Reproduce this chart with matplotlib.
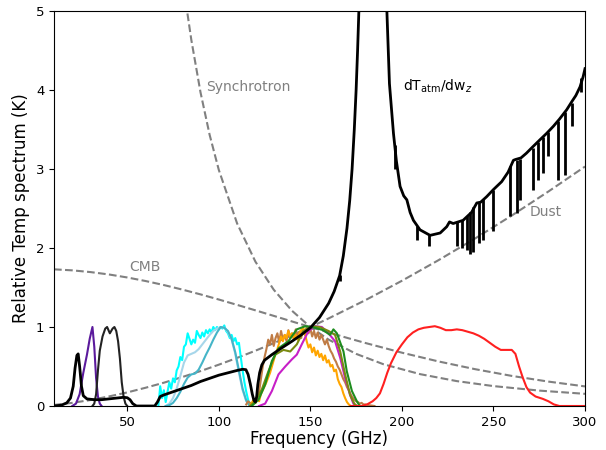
import matplotlib
matplotlib.use("Agg")
import matplotlib.pyplot as plt

# ---- foreground spectra (relative brightness temperature, normalised near 150 GHz) ----
cmb_f = [10, 20, 30, 40, 50, 60, 70, 80, 90, 100, 110, 120, 130, 140, 150, 160, 170,
         180, 200, 220, 240, 260, 280, 300]
cmb_v = [1.730, 1.717, 1.695, 1.665, 1.627, 1.582, 1.531, 1.474, 1.413, 1.348, 1.280,
         1.211, 1.141, 1.070, 1.000, 0.931, 0.863, 0.798, 0.675, 0.564, 0.466, 0.381,
         0.309, 0.248]

sync_f = [82, 85, 90, 95, 100, 110, 120, 130, 140, 150, 160, 175, 190, 210, 230, 250,
          275, 300]
sync_v = [5.107, 4.634, 3.972, 3.432, 2.989, 2.311, 1.827, 1.472, 1.205, 1.000, 0.840,
          0.660, 0.528, 0.403, 0.315, 0.252, 0.195, 0.154]

dust_f = [10, 20, 30, 40, 50, 60, 70, 80, 90, 100, 110, 120, 130, 140, 150, 160, 180,
          200, 220, 240, 260, 280, 300]
dust_v = [0.013, 0.040, 0.076, 0.121, 0.172, 0.231, 0.295, 0.366, 0.442, 0.523, 0.609,
          0.700, 0.795, 0.896, 1.000, 1.109, 1.339, 1.585, 1.846, 2.121, 2.411, 2.715,
          3.031]

# ---- atmospheric response to precipitable water vapour ----
atm_f = [10, 14, 17, 19, 20.5, 21.5, 22.5, 23.2, 24, 25, 26, 28, 32, 36, 40, 44, 48, 50,
         51.5, 53, 55, 65, 66.5, 68, 70, 75, 80, 85, 90, 95, 100, 105, 110, 113, 114.8,
         116, 117.2, 118.3, 119.2, 120, 120.7, 121.3, 122.3, 123.5, 125, 129, 134, 140,
         145, 150, 155, 160, 163, 166, 168, 170, 171.5, 172.8, 174, 175, 175.8, 176.5,
         178, 180, 183, 186, 189, 191.8, 193.2, 195.4, 197, 199, 201, 202.7, 204.5,
         206.3, 209.9, 215.4, 220.9, 224.5, 226, 228, 233.4, 238, 240.9, 243, 246.3, 250,
         254.5, 258, 260.9, 262, 265, 268, 271, 275.4, 279, 282.7, 286, 290, 293, 295,
         297.3, 299, 300]
atm_v = [0.0, 0.01, 0.04, 0.10, 0.25, 0.48, 0.64, 0.66, 0.50, 0.25, 0.13, 0.09, 0.08,
         0.08, 0.09, 0.10, 0.11, 0.105, 0.08, 0.03, 0.0, 0.0, 0.05, 0.12, 0.14, 0.18, 0.22,
         0.26, 0.31, 0.35, 0.39, 0.42, 0.45, 0.465, 0.46, 0.40, 0.28, 0.15, 0.07, 0.05,
         0.12, 0.27, 0.42, 0.52, 0.58, 0.65, 0.73, 0.82, 0.90, 0.99, 1.12, 1.30, 1.45,
         1.65, 1.90, 2.25, 2.60, 3.00, 3.50, 4.00, 4.50, 5.00, 6.50, 9.0, 12.0, 9.0, 6.5,
         5.00, 4.08, 3.45, 3.10, 2.78, 2.66, 2.61, 2.45, 2.35, 2.23, 2.16, 2.19, 2.27,
         2.33, 2.31, 2.35, 2.45, 2.57, 2.58, 2.65, 2.74, 2.84, 2.96, 3.11, 3.12, 3.14,
         3.20, 3.27, 3.37, 3.45, 3.54, 3.63, 3.75, 3.86, 3.93, 4.04, 4.17, 4.27]

# narrow absorption features cutting down from the curve
line_f = [166.3, 196.3, 208.1, 215.0, 230.0, 232.7, 235.4, 237.2, 239.0, 242.3, 244.5,
          250.0, 259.1, 262.7, 264.5, 271.8, 274.5, 277.2, 280.0, 285.4, 289.1, 292.7,
          298.0]
line_top = [1.66, 3.30, 2.28, 2.16, 2.33, 2.35, 2.40, 2.45, 2.52, 2.58, 2.62, 2.74,
            3.04, 3.12, 3.13, 3.27, 3.34, 3.41, 3.47, 3.61, 3.72, 3.84, 4.15]
line_bot = [1.58, 3.00, 2.10, 2.02, 2.02, 2.00, 1.97, 1.93, 1.95, 2.06, 2.10, 2.21,
            2.40, 2.44, 2.61, 2.73, 2.86, 2.95, 3.16, 2.86, 2.92, 3.54, 3.98]

# ---- instrument passbands (peak-normalised) ----
b30_f = [20, 22, 24, 26, 28, 29.5, 31, 32, 33, 34, 35, 36]
b30_v = [0.0, 0.03, 0.15, 0.42, 0.65, 0.85, 1.0, 0.75, 0.35, 0.12, 0.03, 0.0]

b40_f = [31, 32, 33, 34, 35, 36.5, 38, 39, 40.5, 42, 43, 44, 45, 46, 47, 48, 49, 50]
b40_v = [0.0, 0.03, 0.15, 0.45, 0.70, 0.88, 0.98, 1.0, 0.92, 0.98, 1.0, 0.95, 0.82,
         0.60, 0.30, 0.12, 0.03, 0.0]

b90a_f = list(range(67, 119))
b90a_v = [0.0, 0.25, 0.10, 0.20, 0.05, 0.18, 0.30, 0.22, 0.35, 0.30, 0.45, 0.50, 0.62,
          0.58, 0.75, 0.78, 0.92, 0.85, 0.78, 0.84, 0.80, 0.95, 0.90, 0.86, 0.93, 0.88,
          0.96, 0.92, 0.97, 0.93, 1.00, 0.96, 1.00, 0.97, 1.00, 0.98, 1.02, 0.95, 0.92,
          0.86, 0.90, 0.82, 0.86, 0.78, 0.80, 0.62, 0.45, 0.30, 0.18, 0.08, 0.02, 0.0]

b90b_f = [71, 73, 75, 77, 79, 81, 83, 85, 87, 89, 91, 93, 95, 97, 99, 101, 103, 105,
          107, 109, 111, 113, 115, 117]
b90b_v = [0.0, 0.03, 0.10, 0.22, 0.38, 0.55, 0.64, 0.66, 0.68, 0.72, 0.78, 0.84, 0.90,
          0.95, 0.98, 1.0, 0.99, 0.94, 0.84, 0.66, 0.42, 0.20, 0.06, 0.0]
b90c_v = [0.0, 0.01, 0.04, 0.10, 0.18, 0.28, 0.36, 0.40, 0.41, 0.46, 0.55, 0.65, 0.74,
          0.84, 0.93, 1.0, 0.99, 0.95, 0.85, 0.68, 0.45, 0.22, 0.07, 0.0]

b150a_f = [115, 116, 117, 118, 119, 120, 121, 122, 123, 124, 125, 126, 127, 128, 129,
           130, 131, 132, 133, 134, 135, 136, 137, 138, 139, 140, 141, 142, 143, 144,
           145, 146, 147, 148, 149, 150, 151, 152, 153, 154, 155, 156, 157, 158, 159,
           160, 161, 162, 163, 164, 165, 166, 167, 168, 169, 170, 171, 172, 173, 174,
           175, 176, 177, 178, 179, 180, 182, 185]
b150a_v = [0.02, 0.06, 0.04, 0.03, 0.05, 0.04, 0.08, 0.18, 0.34, 0.50, 0.62, 0.72, 0.84,
           0.78, 0.90, 0.76, 0.86, 0.92, 0.80, 0.95, 0.84, 0.90, 0.82, 0.96, 0.86, 0.92,
           0.85, 0.97, 0.88, 0.94, 0.86, 0.98, 0.90, 1.00, 0.92, 0.98, 0.88, 0.95, 0.86,
           0.93, 0.84, 0.90, 0.84, 0.78, 0.84, 0.76, 0.70, 0.66, 0.60, 0.56, 0.50, 0.46,
           0.40, 0.34, 0.30, 0.24, 0.20, 0.15, 0.11, 0.08, 0.06, 0.05, 0.03, 0.04, 0.02,
           0.02, 0.01, 0.0]

b150b_f = list(range(117, 173))
b150b_v = [0.0, 0.04, 0.08, 0.04, 0.10, 0.06, 0.15, 0.20, 0.25, 0.30, 0.36, 0.42, 0.50,
           0.58, 0.66, 0.72, 0.80, 0.88, 0.82, 0.90, 0.86, 0.95, 0.88, 0.92, 0.85, 0.90,
           0.84, 0.92, 0.96, 1.00, 0.92, 0.82, 0.74, 0.78, 0.68, 0.74, 0.64, 0.70, 0.62,
           0.66, 0.58, 0.64, 0.55, 0.58, 0.50, 0.52, 0.44, 0.46, 0.34, 0.28, 0.24, 0.16,
           0.10, 0.05, 0.02, 0.0]

b150c_f = [122, 125.3, 129, 132.6, 136.3, 139.9, 142.6, 145.3, 149, 152.6, 156.3, 159.9,
           163.5, 166.3, 169, 171.7, 173.5, 175]
b150c_v = [0.0, 0.03, 0.19, 0.40, 0.50, 0.59, 0.65, 0.78, 0.95, 1.01, 1.0, 0.92, 0.82,
           0.61, 0.35, 0.14, 0.03, 0.0]

b150d_f = [118, 121.7, 125.3, 129, 132.6, 138, 142.6, 147.2, 152.6, 157, 160.8, 162.6,
           164.5, 168.1, 169.9, 172.7, 175.4, 177]
b150d_v = [0.0, 0.08, 0.27, 0.57, 0.73, 0.82, 0.97, 1.01, 0.99, 0.96, 0.90, 0.97, 0.92,
           0.69, 0.44, 0.19, 0.06, 0.0]

b150e_f = [117, 119.9, 123.5, 127.1, 130.8, 135.3, 139, 142.6, 146.2, 150.8, 155,
           159.9, 163.5, 166.3, 169, 171.7, 174, 175.5]
b150e_v = [0.0, 0.06, 0.21, 0.44, 0.65, 0.71, 0.69, 0.78, 0.95, 1.01, 1.0, 0.95, 0.90,
           0.69, 0.40, 0.14, 0.03, 0.0]

b220_f = [172, 178, 181, 184, 186, 188, 190, 192, 194, 197, 200, 203, 206, 209, 212,
          215, 218, 221, 224, 227, 230, 233, 236, 239, 242, 245, 248, 251, 254, 257,
          260, 262, 264, 266, 268, 270, 273, 277, 280, 283, 286, 300]
b220_v = [0.0, 0.0, 0.02, 0.06, 0.10, 0.16, 0.28, 0.42, 0.54, 0.68, 0.78, 0.87, 0.93,
          0.97, 0.99, 1.0, 1.01, 0.99, 0.96, 0.96, 0.97, 0.96, 0.94, 0.92, 0.89, 0.85,
          0.80, 0.75, 0.71, 0.71, 0.71, 0.66, 0.50, 0.36, 0.24, 0.17, 0.12, 0.09, 0.06,
          0.02, 0.0, 0.0]

fig = plt.figure(figsize=(6.06, 4.5), dpi=100)
ax = fig.add_axes([54 / 606, 44 / 450, 531 / 606, 395 / 450])

grey = "#808080"
ax.plot(cmb_f, cmb_v, "--", color=grey, lw=1.5)
ax.plot(sync_f, sync_v, "--", color=grey, lw=1.5)
ax.plot(dust_f, dust_v, "--", color=grey, lw=1.5)

ax.plot(b30_f, b30_v, color="#5b1a9c", lw=1.5)
ax.plot(b40_f, b40_v, color="#222222", lw=1.5)
ax.plot(b90a_f, b90a_v, color="#00ffff", lw=1.5)
ax.plot(b90b_f, b90b_v, color="#a6d6ea", lw=1.5)
ax.plot(b90b_f, b90c_v, color="#45b5c8", lw=1.5)
ax.plot(b150a_f, b150a_v, color="#c07c45", lw=1.5)
ax.plot(b150b_f, b150b_v, color="#ffa500", lw=1.5)
ax.plot(b150c_f, b150c_v, color="#c71fc7", lw=1.5)
ax.plot(b150e_f, b150e_v, color="#7a8a10", lw=1.5)
ax.plot(b150d_f, b150d_v, color="#1e8c1e", lw=1.5)
ax.plot(b220_f, b220_v, color="#ff2020", lw=1.5)

ax.plot(atm_f, atm_v, color="black", lw=2)
ax.vlines(line_f, line_bot, line_top, color="black", lw=2)

ax.text(93, 4.04, "Synchrotron", color=grey, fontsize=10, va="center")
ax.text(51, 1.76, "CMB", color=grey, fontsize=10, va="center")
ax.text(270, 2.46, "Dust", color=grey, fontsize=10, va="center")
ax.text(200.5, 4.05, r"dT$_{\mathrm{atm}}$/dw$_z$", color="black", fontsize=10,
        va="center")

ax.set_xlim(10, 300)
ax.set_ylim(0, 5)
ax.set_xticks([50, 100, 150, 200, 250, 300])
ax.set_yticks([0, 1, 2, 3, 4, 5])
ax.tick_params(labelsize=9.5)
ax.set_xlabel("Frequency (GHz)", fontsize=12, labelpad=1)
ax.set_ylabel("Relative Temp spectrum (K)", fontsize=12)

fig.savefig("out.png", dpi=100)
